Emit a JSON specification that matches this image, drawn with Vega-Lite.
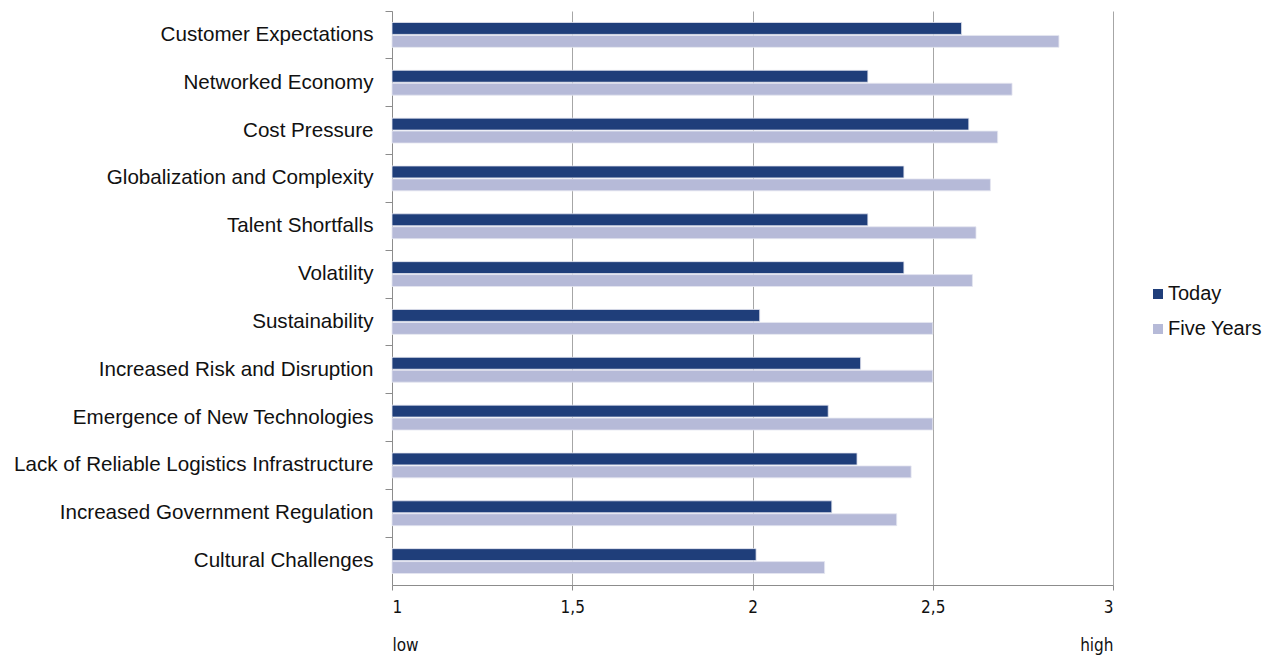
{
  "$schema": "https://vega.github.io/schema/vega-lite/v6.json",
  "autosize": {"type": "none"},
  "padding": {"left": 392, "top": 11, "right": 153, "bottom": 71},
  "width": 721,
  "height": 574,
  "background": "white",
  "data": {"values": [
    {"factor": "Customer Expectations", "series": "Today", "value": 2.58},
    {"factor": "Customer Expectations", "series": "Five Years", "value": 2.85},
    {"factor": "Networked Economy", "series": "Today", "value": 2.32},
    {"factor": "Networked Economy", "series": "Five Years", "value": 2.72},
    {"factor": "Cost Pressure", "series": "Today", "value": 2.60},
    {"factor": "Cost Pressure", "series": "Five Years", "value": 2.68},
    {"factor": "Globalization and Complexity", "series": "Today", "value": 2.42},
    {"factor": "Globalization and Complexity", "series": "Five Years", "value": 2.66},
    {"factor": "Talent Shortfalls", "series": "Today", "value": 2.32},
    {"factor": "Talent Shortfalls", "series": "Five Years", "value": 2.62},
    {"factor": "Volatility", "series": "Today", "value": 2.42},
    {"factor": "Volatility", "series": "Five Years", "value": 2.61},
    {"factor": "Sustainability", "series": "Today", "value": 2.02},
    {"factor": "Sustainability", "series": "Five Years", "value": 2.50},
    {"factor": "Increased Risk and Disruption", "series": "Today", "value": 2.30},
    {"factor": "Increased Risk and Disruption", "series": "Five Years", "value": 2.50},
    {"factor": "Emergence of New Technologies", "series": "Today", "value": 2.21},
    {"factor": "Emergence of New Technologies", "series": "Five Years", "value": 2.50},
    {"factor": "Lack of Reliable Logistics Infrastructure", "series": "Today", "value": 2.29},
    {"factor": "Lack of Reliable Logistics Infrastructure", "series": "Five Years", "value": 2.44},
    {"factor": "Increased Government Regulation", "series": "Today", "value": 2.22},
    {"factor": "Increased Government Regulation", "series": "Five Years", "value": 2.40},
    {"factor": "Cultural Challenges", "series": "Today", "value": 2.01},
    {"factor": "Cultural Challenges", "series": "Five Years", "value": 2.20}
  ]},
  "mark": {"type": "bar", "stroke": "#e4e6f0", "strokeWidth": 0.8},
  "encoding": {
    "y": {
      "field": "factor",
      "type": "nominal",
      "title": null,
      "sort": ["Customer Expectations", "Networked Economy", "Cost Pressure", "Globalization and Complexity", "Talent Shortfalls", "Volatility", "Sustainability", "Increased Risk and Disruption", "Emergence of New Technologies", "Lack of Reliable Logistics Infrastructure", "Increased Government Regulation", "Cultural Challenges"],
      "scale": {"paddingInner": 0.48, "paddingOuter": 0.24},
      "axis": {
        "bandPosition": -0.4615,
        "tickSize": 7,
        "tickColor": "#8c8c8c",
        "domainColor": "#8c8c8c",
        "labelFont": "Liberation Sans",
        "labelFontSize": 20.6,
        "labelColor": "#111111",
        "labelPadding": 12,
        "labelLimit": 500,
        "grid": false
      }
    },
    "yOffset": {
      "field": "series",
      "type": "nominal",
      "sort": ["Today", "Five Years"],
      "scale": {"paddingInner": 0.08}
    },
    "x": {
      "field": "value",
      "type": "quantitative",
      "title": null,
      "scale": {"domain": [1, 3], "nice": false, "zero": false},
      "axis": {
        "values": [1, 1.5, 2, 2.5, 3],
        "grid": true,
        "gridColor": "#a6a6a6",
        "domainColor": "#8c8c8c",
        "tickColor": "#8c8c8c",
        "tickSize": 5,
        "labelFont": "Liberation Sans Narrow, Arial Narrow, DejaVu Sans Condensed, Liberation Sans",
        "labelFontSize": 17,
        "labelColor": "#111111",
        "labelPadding": 9,
        "labelFlush": true,
        "labelLineHeight": 38,
        "labelExpr": "datum.value == 1 ? ['1', 'low'] : datum.value == 3 ? ['3', 'high'] : replace(toString(datum.value), '.', ',')"
      }
    },
    "x2": {"datum": 1},
    "color": {
      "field": "series",
      "type": "nominal",
      "sort": ["Today", "Five Years"],
      "scale": {"domain": ["Today", "Five Years"], "range": ["#1f3e7a", "#b6bad8"]},
      "legend": {
        "title": null,
        "orient": "none",
        "legendX": 756,
        "legendY": 273,
        "symbolType": "square",
        "symbolSize": 100,
        "symbolStrokeWidth": 0,
        "labelFont": "Liberation Sans",
        "labelFontSize": 20,
        "labelColor": "#111111",
        "labelOffset": 0,
        "rowPadding": 15,
        "padding": 0
      }
    }
  },
  "config": {"view": {"stroke": null}}
}
